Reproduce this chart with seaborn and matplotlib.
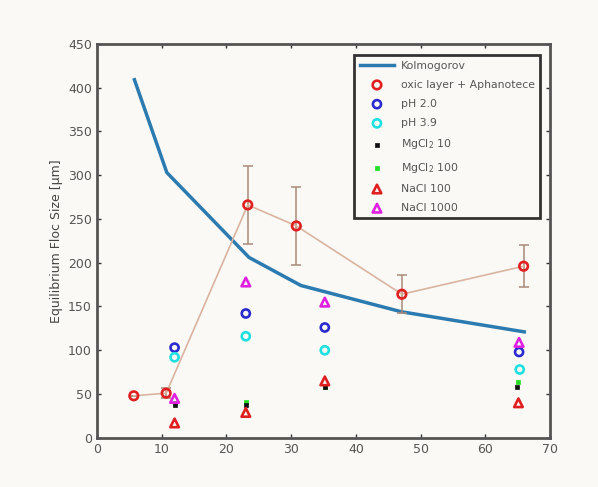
import matplotlib
matplotlib.use("Agg")
import matplotlib.pyplot as plt
import seaborn as sns
import pandas as pd
import numpy as np

# ---- data ----
kolmo_x = [5.8, 10.8, 23.5, 31.5, 47.0, 66.0]
kolmo_y = [409, 303, 206, 174, 144, 121]

oxic_x = [5.7, 10.7, 23.3, 30.8, 47.1, 65.9]
oxic_y = [48, 51, 266, 242, 164, 196]
oxic_err = [0, 6, 45, 45, 22, 24]

ph20_x = [12.0, 23.0, 35.2, 65.2]
ph20_y = [103, 142, 126, 98]
ph39_x = [12.0, 23.0, 35.2, 65.3]
ph39_y = [92, 116, 100, 78]
mg10_x = [12.0, 23.0, 35.2, 64.9]
mg10_y = [37, 37, 58, 58]
mg100_x = [12.0, 23.0, 35.2, 65.1]
mg100_y = [40, 41, 58, 64]
nacl100_x = [12.0, 23.0, 35.2, 65.1]
nacl100_y = [17, 29, 65, 40]
nacl1000_x = [12.0, 23.0, 35.2, 65.2]
nacl1000_y = [45, 178, 155, 109]

bg = "#fbf9f6"
plt.rcParams['font.family'] = ['DejaVu Sans']
fig = plt.figure(figsize=(5.98, 4.87), dpi=100, facecolor=bg)
ax = fig.add_axes([0.162, 0.101, 0.758, 0.809])
ax.set_facecolor(bg)

sns.lineplot(x=kolmo_x, y=kolmo_y, ax=ax, color="#2b7bb0", lw=2.5, label="Kolmogorov", sort=False)

ax.errorbar(oxic_x, oxic_y, yerr=oxic_err, fmt='none', ecolor="#a88a78", elinewidth=1.1, capsize=3.5, capthick=1.1, zorder=2)
sns.lineplot(x=oxic_x, y=oxic_y, ax=ax, color="#d9b4a0", lw=1.2, sort=False, legend=False, zorder=2)
sns.scatterplot(x=oxic_x, y=oxic_y, ax=ax, marker='o', s=38, facecolor='none', edgecolor="#e02020", linewidth=1.9, label="oxic layer + Aphanotece", zorder=4)

sns.scatterplot(x=ph20_x, y=ph20_y, ax=ax, marker='o', s=34, facecolor='none', edgecolor="#2a2ad0", linewidth=1.9, label="pH 2.0", zorder=4)
sns.scatterplot(x=ph39_x, y=ph39_y, ax=ax, marker='o', s=34, facecolor='none', edgecolor="#1fe0e0", linewidth=1.9, label="pH 3.9", zorder=4)
sns.scatterplot(x=mg10_x, y=mg10_y, ax=ax, marker='s', s=12, color="#111111", edgecolor="#111111", linewidth=0.5, label="MgCl$_2$ 10", zorder=4)
sns.scatterplot(x=mg100_x, y=mg100_y, ax=ax, marker='s', s=12, color="#22dd22", edgecolor="#22dd22", linewidth=0.5, label="MgCl$_2$ 100", zorder=3)
sns.scatterplot(x=nacl100_x, y=nacl100_y, ax=ax, marker='^', s=38, facecolor='none', edgecolor="#e02020", linewidth=1.9, label="NaCl 100", zorder=4)
sns.scatterplot(x=nacl1000_x, y=nacl1000_y, ax=ax, marker='^', s=38, facecolor='none', edgecolor="#e020e0", linewidth=1.9, label="NaCl 1000", zorder=4)

ax.set_xlim(0, 70)
ax.set_ylim(0, 450)
ax.set_xticks(np.arange(0, 71, 10))
ax.set_yticks(np.arange(0, 451, 50))
ax.tick_params(direction='in', top=True, right=True, length=3, width=1, colors="#333333", labelcolor="#555555", labelsize=9)
for s in ax.spines.values():
    s.set_linewidth(2)
    s.set_color("#555555")
ax.set_ylabel("Equilibrium Floc Size [μm]", fontsize=9, color="#444444")
ax.set_xlabel("")

leg = ax.legend(loc='upper right', fontsize=7.8, frameon=True, fancybox=False, edgecolor="#333333",
                facecolor=bg, borderpad=0.5, labelspacing=0.85, handlelength=3.2, handletextpad=0.6,
                framealpha=1, bbox_to_anchor=(0.99, 0.985))
leg.get_frame().set_linewidth(2)
for t in leg.get_texts():
    t.set_color("#555555")

fig.savefig("out.png", dpi=100, facecolor=bg)
